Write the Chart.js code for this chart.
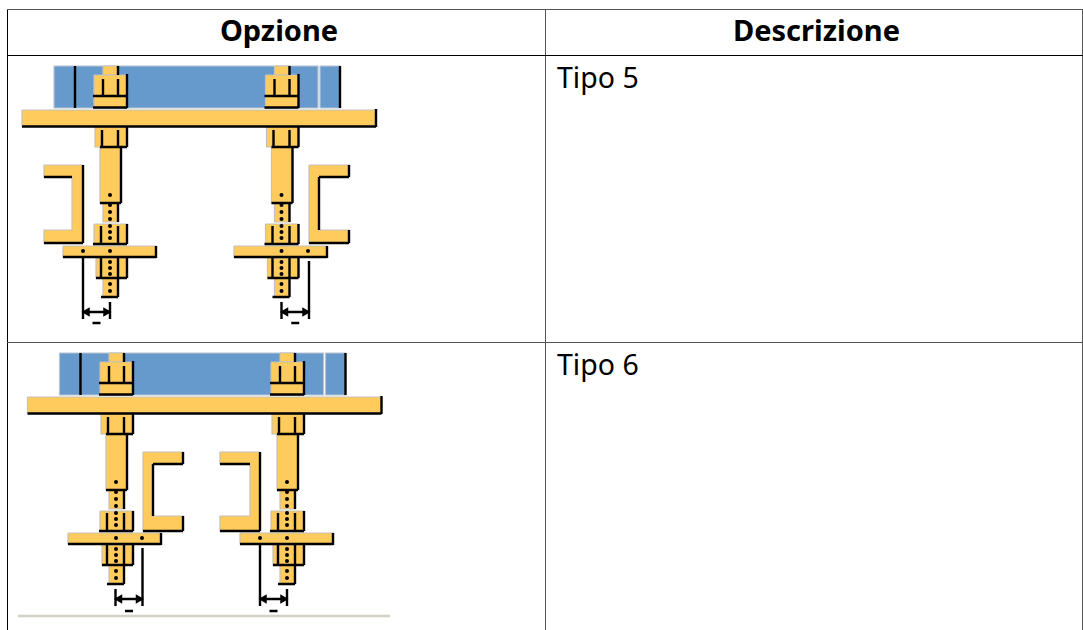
<!DOCTYPE html>
<html><head><meta charset="utf-8">
<script src="https://cdn.jsdelivr.net/npm/chart.js@4"></script>
<style>
html,body{margin:0;padding:0;background:#fff;width:1083px;height:630px;overflow:hidden}
table{position:absolute;left:7px;top:9px;border-collapse:collapse;table-layout:fixed;width:1075px;font-family:"Noto Sans",sans-serif;color:#000}
td,th{border:1px solid #555;padding:0;overflow:hidden}
th{font-size:29px;font-weight:700;height:45px;line-height:40px;text-align:center;border-bottom-color:#000}
th div{height:45px;margin-top:-6px;line-height:46px;padding-left:5px}
td{font-size:28.5px;height:286.6px;vertical-align:top;padding:0 0 0 11px;line-height:42px;box-sizing:border-box;font-weight:400}
tr:last-child td{height:320px}
tr>*:first-child{border-left-color:#000}
#wrap{position:absolute;left:0;top:0;width:1083px;height:630px;filter:blur(.6px);pointer-events:none}
</style></head><body>
<table><colgroup><col style="width:538px"><col style="width:537px"></colgroup>
<tr><th><div>Opzione</div></th><th><div>Descrizione</div></th></tr>
<tr><td></td><td>Tipo 5</td></tr>
<tr><td></td><td>Tipo 6</td></tr>
</table>
<div id="wrap"><canvas id="c" width="1083" height="630"></canvas></div>
<script>
// Diagram geometry, in picture pixels of the first diagram.
const blueBands = [[54,66,318,108],[320,66,340,108]];
const blackBars = [[75,66,75,108],[340,66,340,108]];
const plateFill = [[22,110,376,126]];
const plateLines = [[376,109,376,127],[22,126.5,376,126.5]];
// Bolt parts: x is relative to the bolt axis, y is absolute.
const boltFills = [[-7,66,8,75],[-16,75,17,108],[-15,127,17,147],[-10,147,11,203],[-7,203,8,222],[-16,224,17,244],[-14,258,17,278],[-7,278,8,297]];
const boltLines = [[8,66,8,75],[17,74,17,108],[-7,79,-7,96],[8,79,8,96],[-17,96,17,96],[-17,107.5,17,107.5],
  [17,127,17,147],[-8,130,-8,146],[8,130,8,146],[-10,147,17,147],[11,147,11,203],[-10,203,11,203],[8,203,8,222],
  [17,224,17,244],[8,226,8,244],[-9,226,-9,244],[-17,244,17,244],
  [17,258,17,278],[8,258,8,278],[-9,258,-9,278],[-14,278,17,278],[8,278,8,297],[-9,297,8,297]];
const boltDotsY = [195,205,212,219,226,232,238,251,262,268,274,284,291];
const boltAxesA = [110,281.5], boltAxesB = [116,287];
// Washers: [left, right, top, bottom], diagram A then B.
const washersA = [[63,156,246,257],[234,327,246,257]];
const washersB = [[68,161,533,544],[240,333,533,544]];
// Channels: [outer x, web inner x, flange tip x, top, flange under, flange over, bottom]
const channelsA = [[83,72,44,165,177,230,243],[309,319,349,165,177,230,243]];
const channelsB = [[143,153,183,452,464,516,531],[260,250,220,452,464,516,531]];
// Dimension marks: [wall x, wall top, axis x, axis top, bottom, arrow y, dash y]
const dimsA = [[83,258,110,302,319,312,323],[309,261,281.5,302,319,312,323]];
const dimsB = [[142.5,548,115.5,589,606,599,611],[260,545,287,589,606,599,611]];
const washerDotsA = [[83,251],[308,251]];
const washerDotsB = [[142,538],[260,538]];
const offsetBx = 5.5, offsetBy = 287;
const baseLine = [[18,616],[390,616]];

const rect = (r,dx=0,dy=0)=>[[r[0]+dx,r[1]+dy],[r[2]+dx,r[1]+dy],[r[2]+dx,r[3]+dy],[r[0]+dx,r[3]+dy],[r[0]+dx,r[1]+dy]].map(p=>({x:p[0],y:p[1]}));
const fillSet = (pts,color,edge)=>({data:pts,showLine:true,fill:'shape',backgroundColor:color,borderColor:edge||color,borderWidth:1.2,pointRadius:0,tension:0});
const yellow='#ffcb5c', blue='#6699cc', halo='#c4c1b8';
const datasets=[], strokes=[], dots=[], arrowsL=[], arrowsR=[];
const seg=(x0,y0,x1,y1)=>{strokes.push({x:x0,y:y0},{x:x1,y:y1},{x:null,y:null});};

[[0,0],[offsetBx,offsetBy]].forEach(([dx,dy])=>{
  blueBands.forEach(r=>datasets.push(fillSet(rect(r,dx,dy),blue,'#b9c4d0')));
  blackBars.forEach(l=>seg(l[0]+dx,l[1]+dy,l[2]+dx,l[3]+dy));
});
[[boltAxesA,0],[boltAxesB,offsetBy]].forEach(([axes,dy])=>axes.forEach(ax=>{
  boltFills.forEach(r=>datasets.push(fillSet(rect([r[0]+ax,r[1],r[2]+ax,r[3]],0,dy),yellow,halo)));
  boltLines.forEach(l=>seg(l[0]+ax,l[1]+dy,l[2]+ax,l[3]+dy));
  boltDotsY.forEach(y=>dots.push({x:ax,y:y+dy}));
}));
[[0,0],[offsetBx,offsetBy]].forEach(([dx,dy])=>{
  plateFill.forEach(r=>datasets.push(fillSet(rect(r,dx,dy),yellow,halo)));
  plateLines.forEach(l=>seg(l[0]+dx,l[1]+dy,l[2]+dx,l[3]+dy));
});
washersA.concat(washersB).forEach(w=>{
  datasets.push(fillSet(rect([w[0],w[2],w[1],w[3]]),yellow,halo));
  seg(w[1],w[2],w[1],w[3]+1); seg(w[0],w[3],w[1],w[3]);
});
channelsA.concat(channelsB).forEach((c,i)=>{
  const [o,w,t,y0,y1,y2,y3]=c;
  const poly=[[o,y0],[t,y0],[t,y1],[w,y1],[w,y2],[t,y2],[t,y3],[o,y3],[o,y0]].map(p=>({x:p[0],y:p[1]}));
  datasets.push(fillSet(poly,yellow,halo));
  const tipRight = t>o;
  seg(Math.min(t,w),y1,Math.max(t,w),y1);
  seg(Math.min(o,t),y3,Math.max(o,t),y3);
  if(tipRight){ seg(t,y0,t,y1); seg(w,y1,w,y2); seg(t,y2,t,y3); }
  else { seg(o,y0,o,y3); }
});
dimsA.concat(dimsB).forEach(d=>{
  const [wx,wt,ax,at,b,ay,dash]=d;
  seg(wx,wt,wx,b); seg(ax,at,ax,b); seg(wx,ay,ax,ay);
  const lo=Math.min(wx,ax), hi=Math.max(wx,ax);
  arrowsL.push({x:lo+4,y:ay}); arrowsR.push({x:hi-4,y:ay});
  seg((lo+hi)/2-4,dash,(lo+hi)/2+4,dash);
});
washerDotsA.concat(washerDotsB).forEach(p=>dots.push({x:p[0],y:p[1]}));

datasets.push({data:baseLine.map(p=>({x:p[0],y:p[1]})),showLine:true,borderColor:'#d4d0c8',borderWidth:2.5,pointRadius:0});
datasets.push({data:strokes,showLine:true,spanGaps:false,borderColor:'#000',borderWidth:2.4,pointRadius:0,borderCapStyle:'butt'});
datasets.push({data:dots,showLine:false,pointRadius:2,pointBackgroundColor:'#000',pointBorderWidth:0});
datasets.push({data:arrowsL,showLine:false,pointStyle:'triangle',rotation:-90,pointRadius:5.5,pointBackgroundColor:'#000',pointBorderWidth:0});
datasets.push({data:arrowsR,showLine:false,pointStyle:'triangle',rotation:90,pointRadius:5.5,pointBackgroundColor:'#000',pointBorderWidth:0});
// Chart.js paints the first dataset last, so the list is flipped to paint fills first and strokes on top.
datasets.reverse();

new Chart(document.getElementById('c'),{type:'scatter',data:{datasets},options:{
  responsive:false,animation:false,events:[],devicePixelRatio:1,
  layout:{padding:0,autoPadding:false},
  plugins:{legend:{display:false},tooltip:{enabled:false},title:{display:false}},
  scales:{x:{type:'linear',display:false,min:0,max:1083},y:{type:'linear',display:false,min:0,max:630,reverse:true}}
}});
</script>
</body></html>
